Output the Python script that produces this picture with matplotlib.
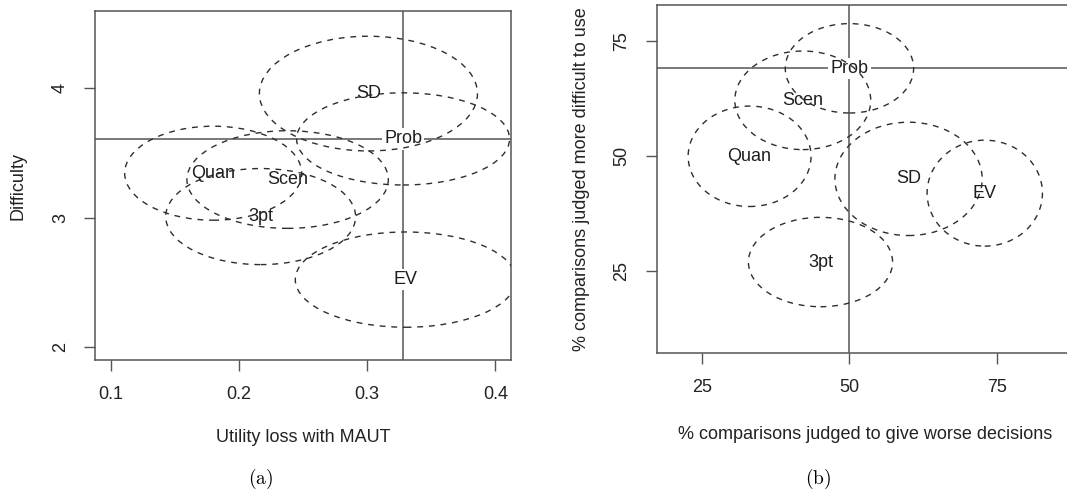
import numpy as np
import matplotlib
matplotlib.use("Agg")
import matplotlib.pyplot as plt
from matplotlib.patches import Ellipse

plt.rcParams['font.family'] = ['Liberation Sans', 'DejaVu Sans']
plt.rcParams['mathtext.fontset'] = 'cm'

methods = ['SD', 'Prob', 'Quan', 'Scen', '3pt', 'EV']

# (a) mean utility loss vs mean difficulty, with ellipse half-axes
a_x = [0.301, 0.328, 0.180, 0.238, 0.217, 0.330]
a_y = [3.96, 3.61, 3.345, 3.296, 3.01, 2.523]
a_rx = [0.085, 0.083, 0.069, 0.0785, 0.074, 0.086]
a_ry = [0.443, 0.356, 0.363, 0.377, 0.371, 0.368]

# (b) % worse decisions vs % more difficult
b_x = [60.0, 50.0, 33.1, 42.1, 45.1, 72.9]
b_y = [45.0, 69.0, 49.9, 62.05, 26.95, 41.9]
b_rx = [12.46, 10.86, 10.4, 11.5, 12.2, 9.76]
b_ry = [12.3, 9.7, 10.9, 10.7, 9.7, 11.5]

a_xticks = [0.1, 0.2, 0.3, 0.4]
a_yticks = [2, 3, 4]
b_xticks = [25, 50, 75]
b_yticks = [25, 50, 75]

ref = methods.index('Prob')
box_col = '#555555'
ell_col = '#2e2e2e'

fig = plt.figure(figsize=(10.67, 4.95), dpi=100)
W, H = 1067, 495


def make_axes(l, r, t, b):
    return fig.add_axes([l / W, 1 - b / H, (r - l) / W, (b - t) / H])


def draw_panel(ax, xs, ys, rxs, rys, xlim, ylim, xticks, yticks,
               xlabel, ylabel, xlab_y, ylab_x):
    ax.set_xlim(*xlim)
    ax.set_ylim(*ylim)
    # reference lines through the Prob centre
    ax.axvline(xs[ref], color=box_col, lw=1.1, zorder=1)
    ax.axhline(ys[ref], color=box_col, lw=1.1, zorder=1)
    for m, x, y, rx, ry in zip(methods, xs, ys, rxs, rys):
        ax.add_patch(Ellipse((x, y), 2 * rx, 2 * ry, fill=False, ec=ell_col,
                             lw=1.0, ls=(0, (4.2, 4.2)), zorder=3))
        ax.text(x, y, m, ha='center', va='center', fontsize=13, color='#1e1e1e',
                zorder=2, bbox=dict(boxstyle='square,pad=0.12', fc='white', ec='none'))
    ax.set_xticks(xticks)
    ax.set_yticks(yticks)
    ax.set_xticklabels([str(t) for t in xticks])
    ax.set_yticklabels([str(t) for t in yticks], rotation=90, va='center')
    ax.tick_params(direction='out', length=8, width=1.0, color=box_col,
                   labelsize=13, pad=11, labelcolor='#222222')
    for s in ax.spines.values():
        s.set_color(box_col)
        s.set_linewidth(1.1)
    ax.set_xlabel(xlabel, fontsize=13, color='#222222', va='center')
    ax.set_ylabel(ylabel, fontsize=13, color='#222222', va='center')
    ax.xaxis.set_label_coords(0.5, xlab_y)
    ax.yaxis.set_label_coords(ylab_x, 0.5)


ax1 = make_axes(95.3, 510.7, 11, 360)
draw_panel(ax1, a_x, a_y, a_rx, a_ry, (0.0881, 0.4119), (1.902, 4.598),
           a_xticks, a_yticks, 'Utility loss with MAUT', 'Difficulty',
           (360 - 437) / 349, (18 - 95.3) / 415.4)

ax2 = make_axes(656.7, 1074, 5, 352.7)
draw_panel(ax2, b_x, b_y, b_rx, b_ry, (17.38, 88.0), (7.27, 82.74),
           b_xticks, b_yticks, '% comparisons judged to give worse decisions',
           '% comparisons judged more difficult to use',
           (352.7 - 435) / 347.7, (582 - 656.7) / 417.3)

fig.text(261 / W, 1 - 479 / H, r'$\mathrm{(a)}$', ha='center', va='center', fontsize=14)
fig.text(818 / W, 1 - 479 / H, r'$\mathrm{(b)}$', ha='center', va='center', fontsize=14)

fig.savefig('out.png', dpi=100)
